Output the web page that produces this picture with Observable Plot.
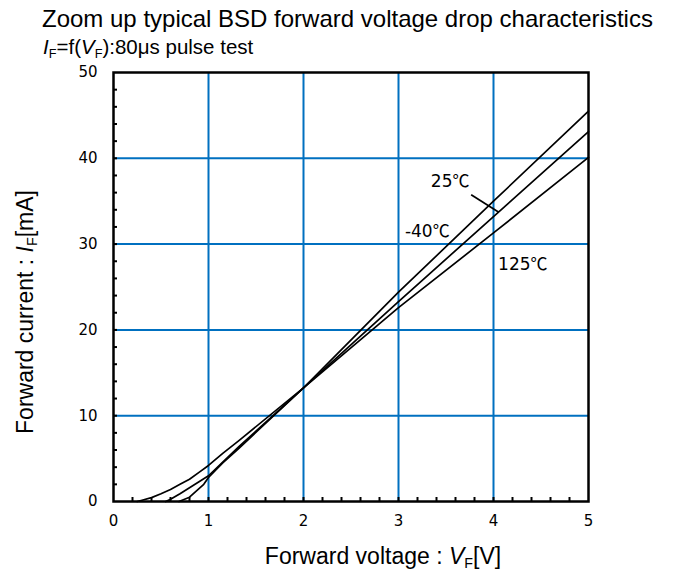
<!DOCTYPE html>
<html><head><meta charset="utf-8">
<script src="https://cdn.jsdelivr.net/npm/d3@7"></script>
<script src="https://cdn.jsdelivr.net/npm/@observablehq/plot@0.6"></script>
<style>
body{margin:0;background:#fff;}
#wrap{position:relative;width:673px;height:575px;overflow:hidden;font-family:"Liberation Sans",Arial,sans-serif;color:#000;}
.t{position:absolute;white-space:nowrap;}
sub{font-size:0.62em;vertical-align:-0.28em;line-height:0;font-style:normal;}
</style></head><body>
<div id="wrap">
<div class="t" style="left:42px;top:4px;font-size:24px;line-height:30px;">Zoom up typical BSD forward voltage drop characteristics</div>
<div class="t" style="left:43px;top:35px;font-size:20.5px;line-height:24px;"><i>I</i><sub>F</sub>=f(<i>V</i><sub>F</sub>):80μs pulse test</div>
<div id="chart" style="position:absolute;left:0;top:60px;"></div>
<div class="t" style="left:383px;top:542px;font-size:23px;line-height:28px;transform:translateX(-50%);">Forward voltage : <i>V</i><sub>F</sub>[V]</div>
<div class="t" style="left:25px;top:312px;font-size:23px;line-height:28px;transform:translate(-50%,-50%) rotate(-90deg);">Forward current : <i>I</i><sub>F</sub>[mA]</div>
</div>
<script>
// Series: forward voltage (V) and forward current (mA)
const vf125 = [0.25, 0.3, 0.4, 0.5, 0.6, 0.7, 0.8, 0.9, 1.0, 1.15, 1.32, 2.0, 3.0, 4.0, 5.0];
const if125 = [0, 0.15, 0.45, 0.9, 1.4, 2.0, 2.6, 3.4, 4.2, 5.6, 7.1, 13.25, 22.6, 31.3, 40.1];
const vf25 = [0.55, 0.6, 0.7, 0.8, 0.9, 1.0, 1.15, 1.32, 2.0, 3.0, 4.0, 5.0];
const if25 = [0, 0.25, 0.9, 1.6, 2.3, 3.0, 4.6, 6.4, 13.25, 23.3, 33.2, 43.1];
const vfm40 = [0.69, 0.8, 0.95, 1.0, 1.15, 1.32, 2.0, 3.0, 4.0, 5.0];
const ifm40 = [0, 0.5, 2.0, 2.8, 4.5, 6.2, 13.25, 24.4, 35.0, 45.5];

const seriesNames = ["125℃", "25℃", "-40℃"];
const seriesV = [vf125, vf25, vfm40];
const seriesI = [if125, if25, ifm40];

// Axis ticks
const xTicks = [0, 1, 2, 3, 4, 5];
const yTicks = [0, 10, 20, 30, 40, 50];
const gridX = [1, 2, 3, 4];
const gridY = [10, 20, 30, 40];
const minorX = [0.2,0.4,0.6,0.8,1.2,1.4,1.6,1.8,2.2,2.4,2.6,2.8,3.2,3.4,3.6,3.8,4.2,4.4,4.6,4.8,1,2,3,4];
const minorY = [2,4,6,8,12,14,16,18,22,24,26,28,32,34,36,38,42,44,46,48,10,20,30,40];

// Annotations (number part and unit part meet at the given point)
const labelNum = ["25", "-40", "125"];
const labelUnit = ["℃", "℃", "℃"];
const labelV = [3.568, 3.36, 4.39];
const labelI = [37.3, 31.5, 27.6];
const leaderV1 = [3.765], leaderI1 = [35.75], leaderV2 = [4.056], leaderI2 = [33.72];

const rows = seriesNames.flatMap((name, s) => seriesV[s].map((v, k) => ({name, v, i: seriesI[s][k]})));

const chart = Plot.plot({
  width: 673, height: 515,
  marginTop: 12, marginBottom: 74, marginLeft: 113, marginRight: 85,
  x: {domain: [0, 5]},
  y: {domain: [0, 50]},
  style: {fontFamily: "'DejaVu Sans', Verdana, sans-serif", fontSize: "15px", color: "#000", background: "#fff"},
  marks: [
    Plot.ruleX(gridX, {stroke: "#0070C0", strokeWidth: 2}),
    Plot.ruleY(gridY, {stroke: "#0070C0", strokeWidth: 2}),
    Plot.axisX(minorX, {anchor: "bottom", tickSize: -4, tickFormat: () => "", label: null, strokeWidth: 2, strokeOpacity: 1}),
    Plot.axisY(minorY, {anchor: "left", tickSize: -4, tickFormat: () => "", label: null, strokeWidth: 2, strokeOpacity: 1}),
    Plot.axisX(xTicks, {anchor: "bottom", tickSize: 0, tickPadding: 14, label: null, tickFormat: d => String(d)}),
    Plot.axisY(yTicks, {anchor: "left", tickSize: 0, tickPadding: 16, label: null, tickFormat: d => String(d)}),
    Plot.line(rows, {x: "v", y: "i", z: "name", stroke: "#000", strokeWidth: 1.7}),
    Plot.link([0], {x1: leaderV1, y1: leaderI1, x2: leaderV2, y2: leaderI2, stroke: "#000", strokeWidth: 1.7}),
    Plot.text(labelNum, {x: labelV, y: labelI, text: d => d, textAnchor: "end", fontSize: 17, fontFamily: "'DejaVu Sans', sans-serif", fill: "#000"}),
    Plot.text(labelUnit, {x: labelV, y: labelI, text: d => d, textAnchor: "start", fontSize: 17, fontFamily: "'Noto Sans CJK JP', sans-serif", fill: "#000"}),
    Plot.frame({stroke: "#000", strokeWidth: 2.5})
  ]
});
document.getElementById("chart").appendChild(chart);
</script>
</body></html>
